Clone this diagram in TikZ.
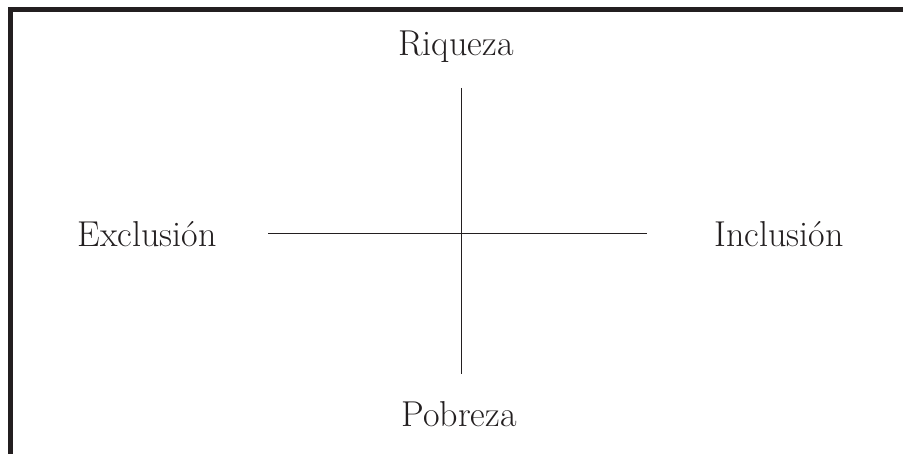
\documentclass[tikz,border=0pt]{standalone}
\usepackage{tikz}
\definecolor{framecol}{RGB}{35,31,32}
\tikzset{
  lab/.style={font=\fontsize{36}{42}\selectfont,text=framecol,inner sep=0pt},
  axis/.style={draw=framecol,line width=1pt},
  frame/.style={draw=framecol,line width=5pt},
}

\begin{document}
\begin{tikzpicture}[x=1pt,y=-1pt]
  \useasboundingbox (0,0) rectangle (903,454);
  \draw[frame] (10.5,454) -- (10.5,9.5) -- (903,9.5);
  \coordinate (top) at (461,88);
  \coordinate (bot) at (461,374);
  \coordinate (left) at (268,234);
  \coordinate (right) at (647,234);
  \draw[axis] (top) -- (bot);
  \draw[axis] (left) -- (right);
  \node[lab] (rich) at (456,47) {Riqueza};
  \node[lab] (poor) at (459,414) {Pobreza};
  \node[lab] (excl) at (147,234) {Exclusión};
  \node[lab] (incl) at (779,234) {Inclusión};
\end{tikzpicture}
\end{document}
